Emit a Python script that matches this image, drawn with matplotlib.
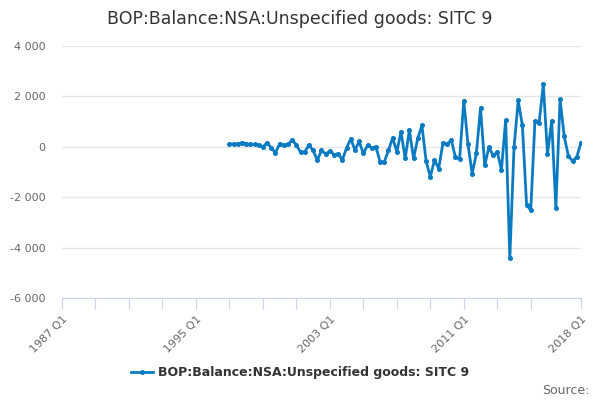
import matplotlib
matplotlib.use('Agg')
import matplotlib.pyplot as plt
from matplotlib.ticker import FuncFormatter

# quarterly balance, 1997 Q1 .. 2018 Q1 (GBP million)
start_year = 1997
balance = [120, 93, 120, 160, 120, 93, 93, 67, 0, 160,
           -40, -240, 120, 53, 93, 266, 67, -213, -200, 67,
           -146, -532, -146, -280, -173, -306, -280, -520, -40, 318,
           -133, 212, -265, 53, -40, 0, -597, -597, -146, 358,
           -199, 597, -464, 663, -464, 332, 849, -570, -1194, -530,
           -862, 133, 93, 279, -411, -490, 1824, 110, -1071, -264,
           1547, -740, -13, -344, -212, -912, 1058, -4429, -26, 1838,
           846, -2300, -2525, 1018, 952, 2485, -291, 1031, -2432, 1877,
           410, -370, -568, -397, 159]

axis_start, axis_end = 1987, 2018
label_years = [1987, 1995, 2003, 2011, 2018]
tick_years = list(range(1987, 2017, 2)) + [2018]
yticks = [-6000, -4000, -2000, 0, 2000, 4000]

title = 'BOP:Balance:NSA:Unspecified goods: SITC 9'
blue = '#0a7bc2'

# quarter index counted from 1987 Q1
x = [(start_year - axis_start) * 4 + i for i in range(len(balance))]

fig = plt.figure(figsize=(6, 4), dpi=100)
ax = fig.add_axes([0.1033, 0.255, 0.865, 0.63])

ax.plot(x, balance, color=blue, lw=2, marker='o', ms=2.6, label=title,
        solid_joinstyle='round', zorder=3)

ax.set_xlim(0, (axis_end - axis_start) * 4)
ax.set_ylim(-6000, 4000)
ax.set_yticks(yticks)
ax.yaxis.set_major_formatter(FuncFormatter(lambda v, p: f'{int(v):,}'.replace(',', ' ')))
ax.grid(axis='y', color='#e6e6e6', lw=1)
ax.set_axisbelow(True)

ax.set_xticks([(y - axis_start) * 4 for y in tick_years])
ax.set_xticklabels([f'{y} Q1' if y in label_years else '' for y in tick_years],
                   rotation=45, ha='right', rotation_mode='anchor')

for s in ['top', 'right', 'left']:
    ax.spines[s].set_visible(False)
ax.spines['bottom'].set_color('#ccd6eb')
ax.tick_params(axis='x', colors='#ccd6eb', length=8, labelcolor='#666666', labelsize=8)
ax.tick_params(axis='y', length=0, labelcolor='#666666', labelsize=8, pad=12)

fig.suptitle(title, x=0.5, y=0.975, fontsize=12.5, color='#333333')

fig.legend(loc='center', bbox_to_anchor=(0.5, 0.068), frameon=False,
           prop={'weight': 'bold', 'size': 9}, labelcolor='#333333',
           handlelength=1.8, handletextpad=0.4)
fig.text(0.982, 0.025, 'Source:', ha='right', va='center', fontsize=9, color='#666666')

fig.savefig('out.png', dpi=100)
